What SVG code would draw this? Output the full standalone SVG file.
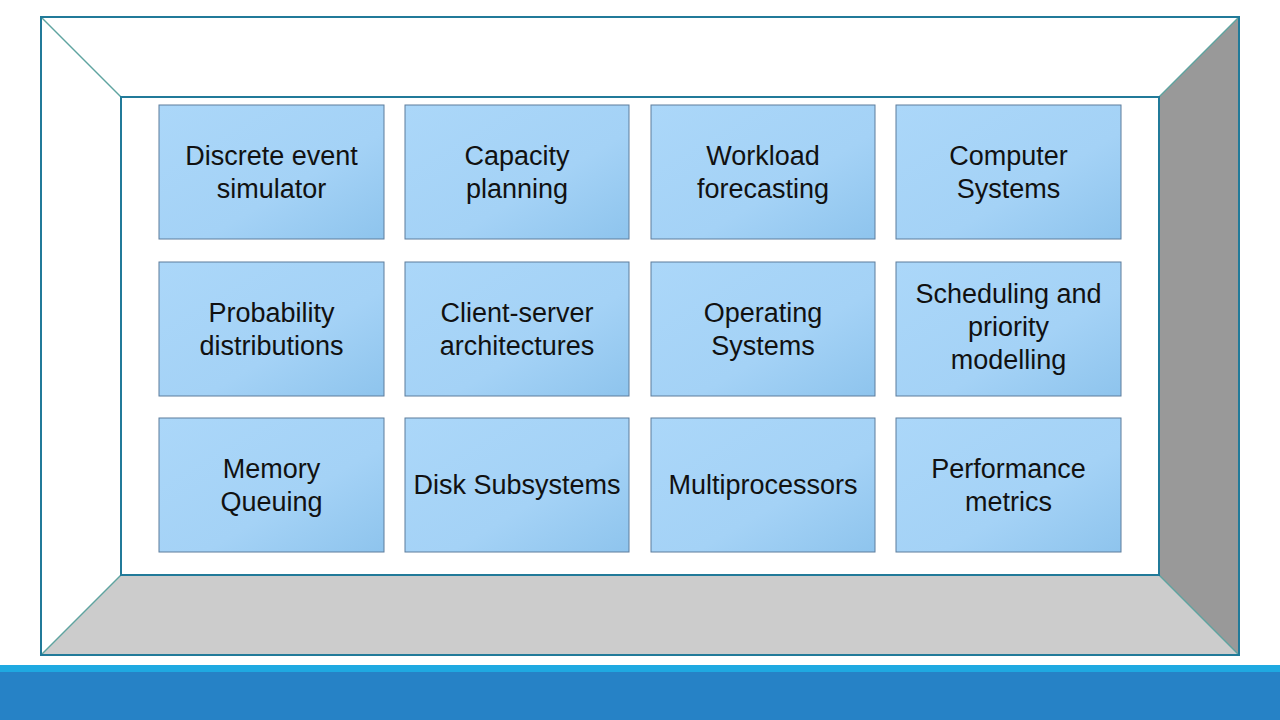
<svg xmlns="http://www.w3.org/2000/svg" width="1280" height="720" viewBox="0 0 1280 720">
<defs>
<linearGradient id="boxg" x1="0" y1="0" x2="1" y2="1">
<stop offset="0" stop-color="#abd7f9"/>
<stop offset="0.6" stop-color="#a4d2f6"/>
<stop offset="1" stop-color="#8ec4ed"/>
</linearGradient>
<style>
.box{fill:url(#boxg);stroke:#5d7d9c;stroke-width:1}
.lbl{font-family:"Liberation Sans",Arial,sans-serif;font-size:27px;fill:#111111;text-anchor:middle}
.frame{fill:none;stroke:#217a99;stroke-width:2}
.diag{stroke:#5ea4a0;stroke-width:1.5;fill:none}
</style>
</defs>
<rect width="1280" height="720" fill="#ffffff"/>
<g id="room">
<polygon points="41,655 121,575 1159,575 1239,655" fill="#cccccc"/>
<polygon points="1159,97 1239,17 1239,655 1159,575" fill="#999999"/>
<rect x="121" y="97" width="1038" height="478" fill="#ffffff"/>
<line class="diag" x1="41" y1="17" x2="121" y2="97"/>
<line class="diag" x1="1239" y1="17" x2="1159" y2="97"/>
<line class="diag" x1="41" y1="655" x2="121" y2="575"/>
<line class="diag" x1="1239" y1="655" x2="1159" y2="575"/>
<rect class="frame" x="41" y="17" width="1198" height="638"/>
<rect class="frame" x="121" y="97" width="1038" height="478"/>
</g>
<g id="footer">
<rect x="0" y="665" width="1280" height="7" fill="#1fa9e1"/>
<rect x="0" y="672" width="1280" height="48" fill="#2682c6"/>
</g>
<g id="connectors"></g>
<g id="n1"><rect class="box" x="159" y="105" width="225" height="134"/><text class="lbl" x="271.5" y="165">Discrete event</text><text class="lbl" x="271.5" y="198">simulator</text></g>
<g id="n2"><rect class="box" x="405" y="105" width="224" height="134"/><text class="lbl" x="517" y="165">Capacity</text><text class="lbl" x="517" y="198">planning</text></g>
<g id="n3"><rect class="box" x="651" y="105" width="224" height="134"/><text class="lbl" x="763" y="165">Workload</text><text class="lbl" x="763" y="198">forecasting</text></g>
<g id="n4"><rect class="box" x="896" y="105" width="225" height="134"/><text class="lbl" x="1008.5" y="165">Computer</text><text class="lbl" x="1008.5" y="198">Systems</text></g>
<g id="n5"><rect class="box" x="159" y="262" width="225" height="134"/><text class="lbl" x="271.5" y="322">Probability</text><text class="lbl" x="271.5" y="355">distributions</text></g>
<g id="n6"><rect class="box" x="405" y="262" width="224" height="134"/><text class="lbl" x="517" y="322">Client-server</text><text class="lbl" x="517" y="355">architectures</text></g>
<g id="n7"><rect class="box" x="651" y="262" width="224" height="134"/><text class="lbl" x="763" y="322">Operating</text><text class="lbl" x="763" y="355">Systems</text></g>
<g id="n8"><rect class="box" x="896" y="262" width="225" height="134"/><text class="lbl" x="1008.5" y="303">Scheduling and</text><text class="lbl" x="1008.5" y="336">priority</text><text class="lbl" x="1008.5" y="369">modelling</text></g>
<g id="n9"><rect class="box" x="159" y="418" width="225" height="134"/><text class="lbl" x="271.5" y="478">Memory</text><text class="lbl" x="271.5" y="511">Queuing</text></g>
<g id="n10"><rect class="box" x="405" y="418" width="224" height="134"/><text class="lbl" x="517" y="494">Disk Subsystems</text></g>
<g id="n11"><rect class="box" x="651" y="418" width="224" height="134"/><text class="lbl" x="763" y="494">Multiprocessors</text></g>
<g id="n12"><rect class="box" x="896" y="418" width="225" height="134"/><text class="lbl" x="1008.5" y="478">Performance</text><text class="lbl" x="1008.5" y="511">metrics</text></g>
</svg>
